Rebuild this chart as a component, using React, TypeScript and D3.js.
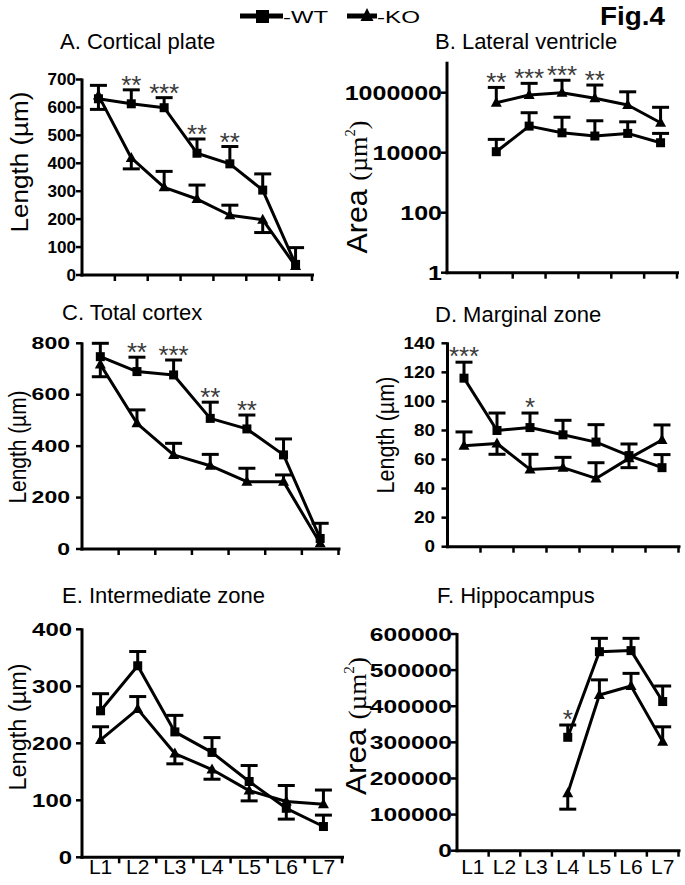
import React from "react";
import * as d3 from "d3";

const levels = ["L1", "L2", "L3", "L4", "L5", "L6", "L7"];

// A. Cortical plate
const cpWT = [631, 613, 599, 436, 398, 304, 38];
const cpWTErr = [-38, 50, 36, 51, 62, 58, 60];
const cpKO = [643, 419, 314, 272, 214, 198, 32];
const cpKOErr = [36, -39, 57, 50, 36, -46, 0];
const cpStars = ["", "**", "***", "**", "**", "", ""];
const cpTicks = [0, 100, 200, 300, 400, 500, 600, 700];

// B. Lateral ventricle (log)
const lvWT = [null, 10800, 77000, 46000, 36000, 44000, 21500];
const lvWTErr = [null, 17000, 138000, 106000, 80000, 63000, 22500];
const lvKO = [null, 464000, 838000, 1000000, 650000, 388000, 100000];
const lvKOErr = [null, 1036000, 1212000, 1600000, 1150000, 682000, 226000];
const lvStars = ["", "**", "***", "***", "**", "", ""];
const lvTicks = [1, 100, 10000, 1000000];

// C. Total cortex
const tcWT = [748, 690, 677, 508, 467, 366, 41];
const tcWTErr = [52, 56, 58, 63, 54, 62, 59];
const tcKO = [718, 489, 366, 324, 262, 262, 22];
const tcKOErr = [-48, 52, 45, 44, 52, 26, 0];
const tcStars = ["", "**", "***", "**", "**", "", ""];
const tcTicks = [0, 200, 400, 600, 800];

// D. Marginal zone
const mzWT = [116, 80, 82, 77, 72, 62.7, 54.4];
const mzWTErr = [11, 12, 10, 10, 12, 8, 9];
const mzKO = [69.5, 71, 53.2, 54.4, 47, 60.8, 73.4];
const mzKOErr = [9.5, -7.4, 10.4, 7.1, 10.8, -6.4, 10.4];
const mzStars = ["***", "", "*", "", "", "", ""];
const mzTicks = [0, 20, 40, 60, 80, 100, 120, 140];

// E. Intermediate zone
const izWT = [257, 336, 220, 184, 133, 86, 54];
const izWTErr = [30, 25, 29, 26, 28, -19, 20];
const izKO = [206, 260, 182, 154, 117, 98, 93];
const izKOErr = [23, 22, -18, -17, -18, 28, 25];
const izStars = ["", "", "", "", "", "", ""];
const izTicks = [0, 100, 200, 300, 400];

// F. Hippocampus
const hcWT = [null, null, null, 314000, 551000, 554000, 413000];
const hcWTErr = [null, null, null, 34000, 37000, 34000, 43000];
const hcKO = [null, null, null, 159000, 431000, 456000, 302000];
const hcKOErr = [null, null, null, -44000, 42000, 35000, 41000];
const hcStars = ["", "", "", "*", "", "", ""];
const hcTicks = [0, 100000, 200000, 300000, 400000, 500000, 600000];

const SANS = "'Liberation Sans', Arial, Helvetica, sans-serif";
const SERIF = "'Liberation Serif', 'Times New Roman', serif";

type PanelProps = {
  title: string;
  titleX: number;
  titleY: number;
  x0: number;
  x1: number;
  yTop: number;
  yBot: number;
  log?: boolean;
  domain: [number, number];
  ticks: number[];
  tickFont: number;
  digitW: number;
  labelRight: number;
  yTitle: "len" | "area";
  yTitleX: number;
  yTitleY: number;
  yTitleLen: number;
  wt: (number | null)[];
  wtErr: (number | null)[];
  ko: (number | null)[];
  koErr: (number | null)[];
  stars: string[];
  showX: boolean;
  starGap: number;
};

function Panel(p: PanelProps) {
  const x = d3.scaleBand<string>().domain(levels).range([p.x0, p.x1]).paddingInner(0).paddingOuter(0);
  const y = p.log
    ? d3.scaleLog().domain(p.domain).range([p.yBot, p.yTop])
    : d3.scaleLinear().domain(p.domain).range([p.yBot, p.yTop]);
  const cx = (i: number) => (x(levels[i]) as number) + x.bandwidth() / 2;

  const line = d3
    .line<number | null>()
    .defined((d) => d != null)
    .x((_, i) => cx(i))
    .y((d) => y(d as number));

  const errBars = (vals: (number | null)[], errs: (number | null)[], key: string) =>
    vals.map((v, i) => {
      const e = errs[i];
      if (v == null || e == null || e === 0) return null;
      const yv = y(v);
      const ye = y(v + e);
      return (
        <g key={key + i}>
          <line x1={cx(i)} x2={cx(i)} y1={yv} y2={ye} stroke="#000" strokeWidth={3} />
          <line x1={cx(i) - 8.5} x2={cx(i) + 8.5} y1={ye} y2={ye} stroke="#000" strokeWidth={3} />
        </g>
      );
    });

  const boundaries = levels.map((l) => x(l) as number).concat([p.x1]);

  return (
    <g>
      <text x={p.titleX} y={p.titleY} fontFamily={SANS} fontSize={22} fill="#000">
        {p.title}
      </text>
      {/* y axis */}
      <line x1={p.x0} x2={p.x0} y1={p.yTop - 1} y2={p.yBot + 1.5} stroke="#000" strokeWidth={3} />
      {p.ticks.map((t) => (
        <g key={"t" + t}>
          <line x1={p.x0 - 6} x2={p.x0} y1={y(t)} y2={y(t)} stroke="#000" strokeWidth={2.5} />
          <text
            x={p.labelRight}
            y={y(t)}
            dy="0.36em"
            textAnchor="end"
            fontFamily={SANS}
            fontWeight="bold"
            fontSize={p.tickFont}
            textLength={String(t).length * p.digitW}
            lengthAdjust="spacingAndGlyphs"
          >
            {String(t)}
          </text>
        </g>
      ))}
      {/* x axis */}
      <line x1={p.x0 - 1.5} x2={p.x1 + 2} y1={p.yBot} y2={p.yBot} stroke="#000" strokeWidth={3} />
      {boundaries.slice(1).map((b, i) => (
        <line key={"xb" + i} x1={b} x2={b} y1={p.yBot} y2={p.yBot + 6} stroke="#000" strokeWidth={2.5} />
      ))}
      {p.showX &&
        levels.map((l, i) => (
          <text key={"xl" + l} x={cx(i)} y={874} textAnchor="middle" fontFamily={SANS} fontSize={21}>
            {l}
          </text>
        ))}
      {/* y title */}
      <g transform={`translate(${p.yTitleX},${p.yTitleY}) rotate(-90)`}>
        {p.yTitle === "len" ? (
          <text
            x={0}
            y={0}
            dy="0.35em"
            textAnchor="middle"
            fontFamily={SANS}
            fontSize={23}
            textLength={p.yTitleLen}
            lengthAdjust="spacingAndGlyphs"
          >
            Length (µm)
          </text>
        ) : (
          <text x={0} y={0} dy="0.35em" textAnchor="middle" fontSize={25} textLength={p.yTitleLen} lengthAdjust="spacingAndGlyphs">
            <tspan fontFamily={SANS} fontSize={29}>Area </tspan>
            <tspan fontFamily={SERIF}>(µm</tspan>
            <tspan fontFamily={SERIF} fontSize={14} dy={-12}>2</tspan>
            <tspan fontFamily={SERIF} dy={12}>)</tspan>
          </text>
        )}
      </g>
      {/* lines */}
      <path d={line(p.wt) || ""} fill="none" stroke="#000" strokeWidth={3} strokeLinejoin="round" />
      <path d={line(p.ko) || ""} fill="none" stroke="#000" strokeWidth={3} strokeLinejoin="round" />
      {errBars(p.wt, p.wtErr, "we")}
      {errBars(p.ko, p.koErr, "ke")}
      {/* markers */}
      {p.wt.map((v, i) =>
        v == null ? null : <rect key={"wm" + i} x={cx(i) - 4.5} y={y(v) - 4.5} width={9} height={9} fill="#000" />
      )}
      {p.ko.map((v, i) =>
        v == null ? null : (
          <path
            key={"km" + i}
            d={`M${cx(i)},${y(v) - 6} L${cx(i) + 5.5},${y(v) + 4} L${cx(i) - 5.5},${y(v) + 4} Z`}
            fill="#000"
          />
        )
      )}
      {/* stars */}
      {p.stars.map((s, i) => {
        if (!s) return null;
        const tops: number[] = [];
        [
          [p.wt, p.wtErr],
          [p.ko, p.koErr],
        ].forEach(([vs, es]) => {
          const v = (vs as (number | null)[])[i];
          const e = (es as (number | null)[])[i];
          if (v != null) tops.push(y(v + Math.max(e || 0, 0)));
        });
        const top = Math.min(...tops);
        const cy = top - p.starGap;
        return (
          <text
            key={"s" + i}
            x={cx(i)}
            y={cy + 15}
            textAnchor="middle"
            fontFamily={SANS}
            fontSize={26}
            fill="#3a3a3a"
            textLength={s.length * 10}
            lengthAdjust="spacing"
          >
            {s}
          </text>
        );
      })}
    </g>
  );
}

export default function App() {
  return (
    <svg width={685} height={885} style={{ position: "absolute", left: 0, top: 0, background: "#fff" }}>
      <rect x={0} y={0} width={685} height={885} fill="#fff" />
      {/* legend */}
      <line x1={240} x2={283} y1={16} y2={16} stroke="#000" strokeWidth={5} />
      <rect x={256} y={10} width={13} height={13} fill="#000" />
      <text x={283} y={23} fontFamily={SANS} fontSize={17} textLength={45} lengthAdjust="spacingAndGlyphs">
        -WT
      </text>
      <line x1={347} x2={377} y1={16} y2={16} stroke="#000" strokeWidth={5} />
      <path d="M367,8 L373.5,21 L360.5,21 Z" fill="#000" />
      <text x={377} y={23} fontFamily={SANS} fontSize={17} textLength={43} lengthAdjust="spacingAndGlyphs">
        -KO
      </text>
      <text x={600} y={25} fontFamily={SANS} fontWeight="bold" fontSize={25} textLength={65} lengthAdjust="spacingAndGlyphs">
        Fig.4
      </text>

      <Panel
        title="A. Cortical plate" titleX={60} titleY={49}
        x0={82} x1={312} yTop={79.5} yBot={275} domain={[0, 700]} ticks={cpTicks}
        tickFont={16} digitW={9.5} labelRight={76}
        yTitle="len" yTitleX={20} yTitleY={162} yTitleLen={141}
        wt={cpWT} wtErr={cpWTErr} ko={cpKO} koErr={cpKOErr} stars={cpStars} showX={false} starGap={11}
      />
      <Panel
        title="B. Lateral ventricle" titleX={435} titleY={49}
        x0={447} x1={677} yTop={62.7} yBot={272.7} log domain={[1, 1e7]} ticks={lvTicks}
        tickFont={19.5} digitW={13.9} labelRight={442}
        yTitle="area" yTitleX={358} yTitleY={187} yTitleLen={133}
        wt={lvWT} wtErr={lvWTErr} ko={lvKO} koErr={lvKOErr} stars={lvStars} showX={false} starGap={11}
      />
      <Panel
        title="C. Total cortex" titleX={62} titleY={320}
        x0={82} x1={338.5} yTop={343.3} yBot={549} domain={[0, 800]} ticks={tcTicks}
        tickFont={16} digitW={12.8} labelRight={70}
        yTitle="len" yTitleX={18} yTitleY={447} yTitleLen={113}
        wt={tcWT} wtErr={tcWTErr} ko={tcKO} koErr={tcKOErr} stars={tcStars} showX={false} starGap={11}
      />
      <Panel
        title="D. Marginal zone" titleX={435} titleY={322}
        x0={447.5} x1={678.5} yTop={343.3} yBot={546.7} domain={[0, 140]} ticks={mzTicks}
        tickFont={16} digitW={10.5} labelRight={435}
        yTitle="len" yTitleX={386} yTitleY={435} yTitleLen={117}
        wt={mzWT} wtErr={mzWTErr} ko={mzKO} koErr={mzKOErr} stars={mzStars} showX={false} starGap={12}
      />
      <Panel
        title="E. Intermediate zone" titleX={62} titleY={603}
        x0={82} x1={342} yTop={629.3} yBot={857.3} domain={[0, 400]} ticks={izTicks}
        tickFont={18.6} digitW={13.3} labelRight={72}
        yTitle="len" yTitleX={18} yTitleY={727} yTitleLen={127}
        wt={izWT} wtErr={izWTErr} ko={izKO} koErr={izKOErr} stars={izStars} showX={true} starGap={11}
      />
      <Panel
        title="F. Hippocampus" titleX={437} titleY={603}
        x0={457} x1={678.5} yTop={634} yBot={850.7} domain={[0, 600000]} ticks={hcTicks}
        tickFont={18.6} digitW={13.7} labelRight={452}
        yTitle="area" yTitleX={357} yTitleY={726} yTitleLen={138}
        wt={hcWT} wtErr={hcWTErr} ko={hcKO} koErr={hcKOErr} stars={hcStars} showX={true} starGap={12}
      />
    </svg>
  );
}
